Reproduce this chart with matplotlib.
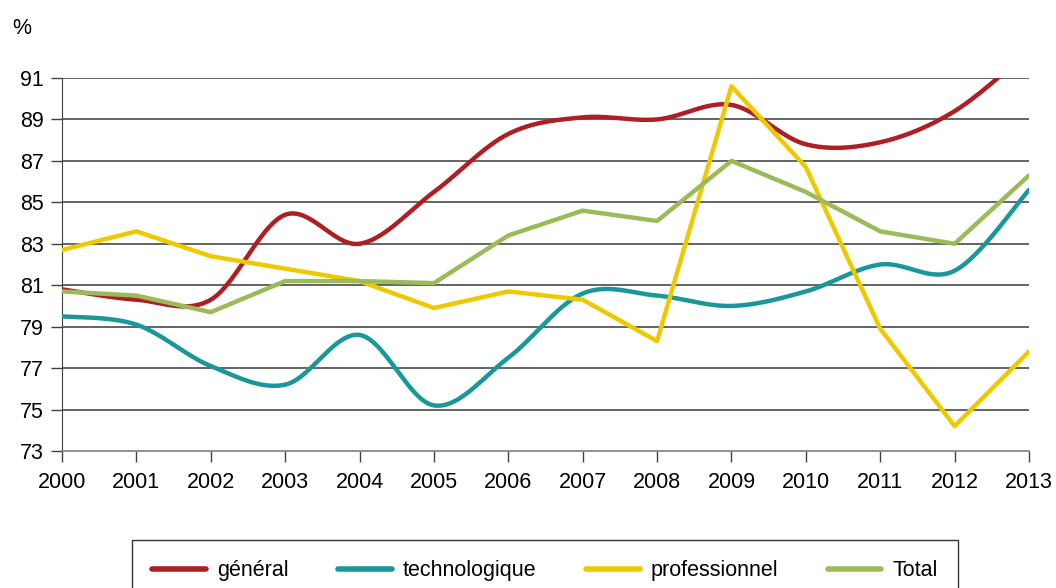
import numpy as np
import matplotlib
matplotlib.use("Agg")
import matplotlib.pyplot as plt
from matplotlib.lines import Line2D

years = [2000, 2001, 2002, 2003, 2004, 2005, 2006, 2007, 2008, 2009, 2010, 2011, 2012, 2013]
general = [80.8, 80.3, 80.3, 84.4, 83.0, 85.5, 88.3, 89.1, 89.0, 89.7, 87.8, 87.9, 89.4, 92.3]
technologique = [79.5, 79.1, 77.1, 76.2, 78.6, 75.2, 77.5, 80.6, 80.5, 80.0, 80.7, 82.0, 81.7, 85.6]
professionnel = [82.7, 83.6, 82.4, 81.8, 81.2, 79.9, 80.7, 80.3, 78.3, 90.6, 86.7, 78.9, 74.2, 77.8]
total = [80.7, 80.5, 79.7, 81.2, 81.2, 81.1, 83.4, 84.6, 84.1, 87.0, 85.5, 83.6, 83.0, 86.3]
labels = ["général", "technologique", "professionnel", "Total"]
colors = ["#AE1E23", "#1A979B", "#EEC900", "#9BBB59"]
yticks = [73, 75, 77, 79, 81, 83, 85, 87, 89, 91]

plt.rcParams['font.family'] = ['Liberation Sans', 'DejaVu Sans']


def smooth(xs, ys, n=30):
    xs = np.asarray(xs, float)
    ys = np.asarray(ys, float)
    px = np.concatenate([[xs[0]], xs, [xs[-1]]])
    py = np.concatenate([[ys[0]], ys, [ys[-1]]])
    ox, oy = [], []
    t = np.linspace(0, 1, n)
    for i in range(1, len(px) - 2):
        p0 = np.array([px[i], py[i]])
        p3 = np.array([px[i + 1], py[i + 1]])
        c1 = p0 + (np.array([px[i + 1], py[i + 1]]) - np.array([px[i - 1], py[i - 1]])) / 6
        c2 = p3 - (np.array([px[i + 2], py[i + 2]]) - np.array([px[i], py[i]])) / 6
        b = ((1 - t) ** 3)[:, None] * p0 + (3 * (1 - t) ** 2 * t)[:, None] * c1 + \
            (3 * (1 - t) * t ** 2)[:, None] * c2 + (t ** 3)[:, None] * p3
        ox.extend(b[:, 0])
        oy.extend(b[:, 1])
    return ox, oy


fig = plt.figure(figsize=(10.56, 5.88), dpi=100)
ax = fig.add_axes([62 / 1056, 1 - 451 / 588, (1029 - 62) / 1056, (451 - 78) / 588])

ax.set_xlim(2000, 2013)
ax.set_ylim(73, 91)
ax.set_yticks(yticks)
ax.set_xticks(years)
ax.tick_params(axis='both', labelsize=15.5, length=8, width=1, color='#404040')
ax.tick_params(axis='y', pad=5)
ax.tick_params(axis='x', pad=7)
for y in yticks[1:]:
    ax.axhline(y, color='#3a3a3a', lw=1.1, zorder=1)
for s in ['top', 'right']:
    ax.spines[s].set_visible(False)
ax.spines['left'].set_color('#404040')
ax.spines['bottom'].set_color('#808080')
ax.spines['bottom'].set_linewidth(1.2)

series = [general, technologique, professionnel, total]
smoothed = [True, True, False, False]
for vals, c, sm in zip(series, colors, smoothed):
    if sm:
        x, y = smooth(years, vals)
    else:
        x, y = years, vals
    ax.plot(x, y, color=c, lw=3.2, solid_capstyle='round', solid_joinstyle='round', zorder=3)

fig.text(22 / 1056, 1 - 28 / 588, "%", fontsize=15.5, ha='center', va='center')

handles = [Line2D([0], [0], color=c, lw=4, solid_capstyle='round') for c in colors]
leg = fig.legend(handles, labels, loc='upper center', bbox_to_anchor=(545 / 1056, 1 - 529 / 588),
                 ncol=4, fontsize=15.5, frameon=True, fancybox=False, edgecolor='black',
                 handlelength=2.5, handletextpad=0.5, columnspacing=2.3, borderpad=0.95)
leg.get_frame().set_linewidth(1.0)

fig.savefig("out.png", dpi=100)
